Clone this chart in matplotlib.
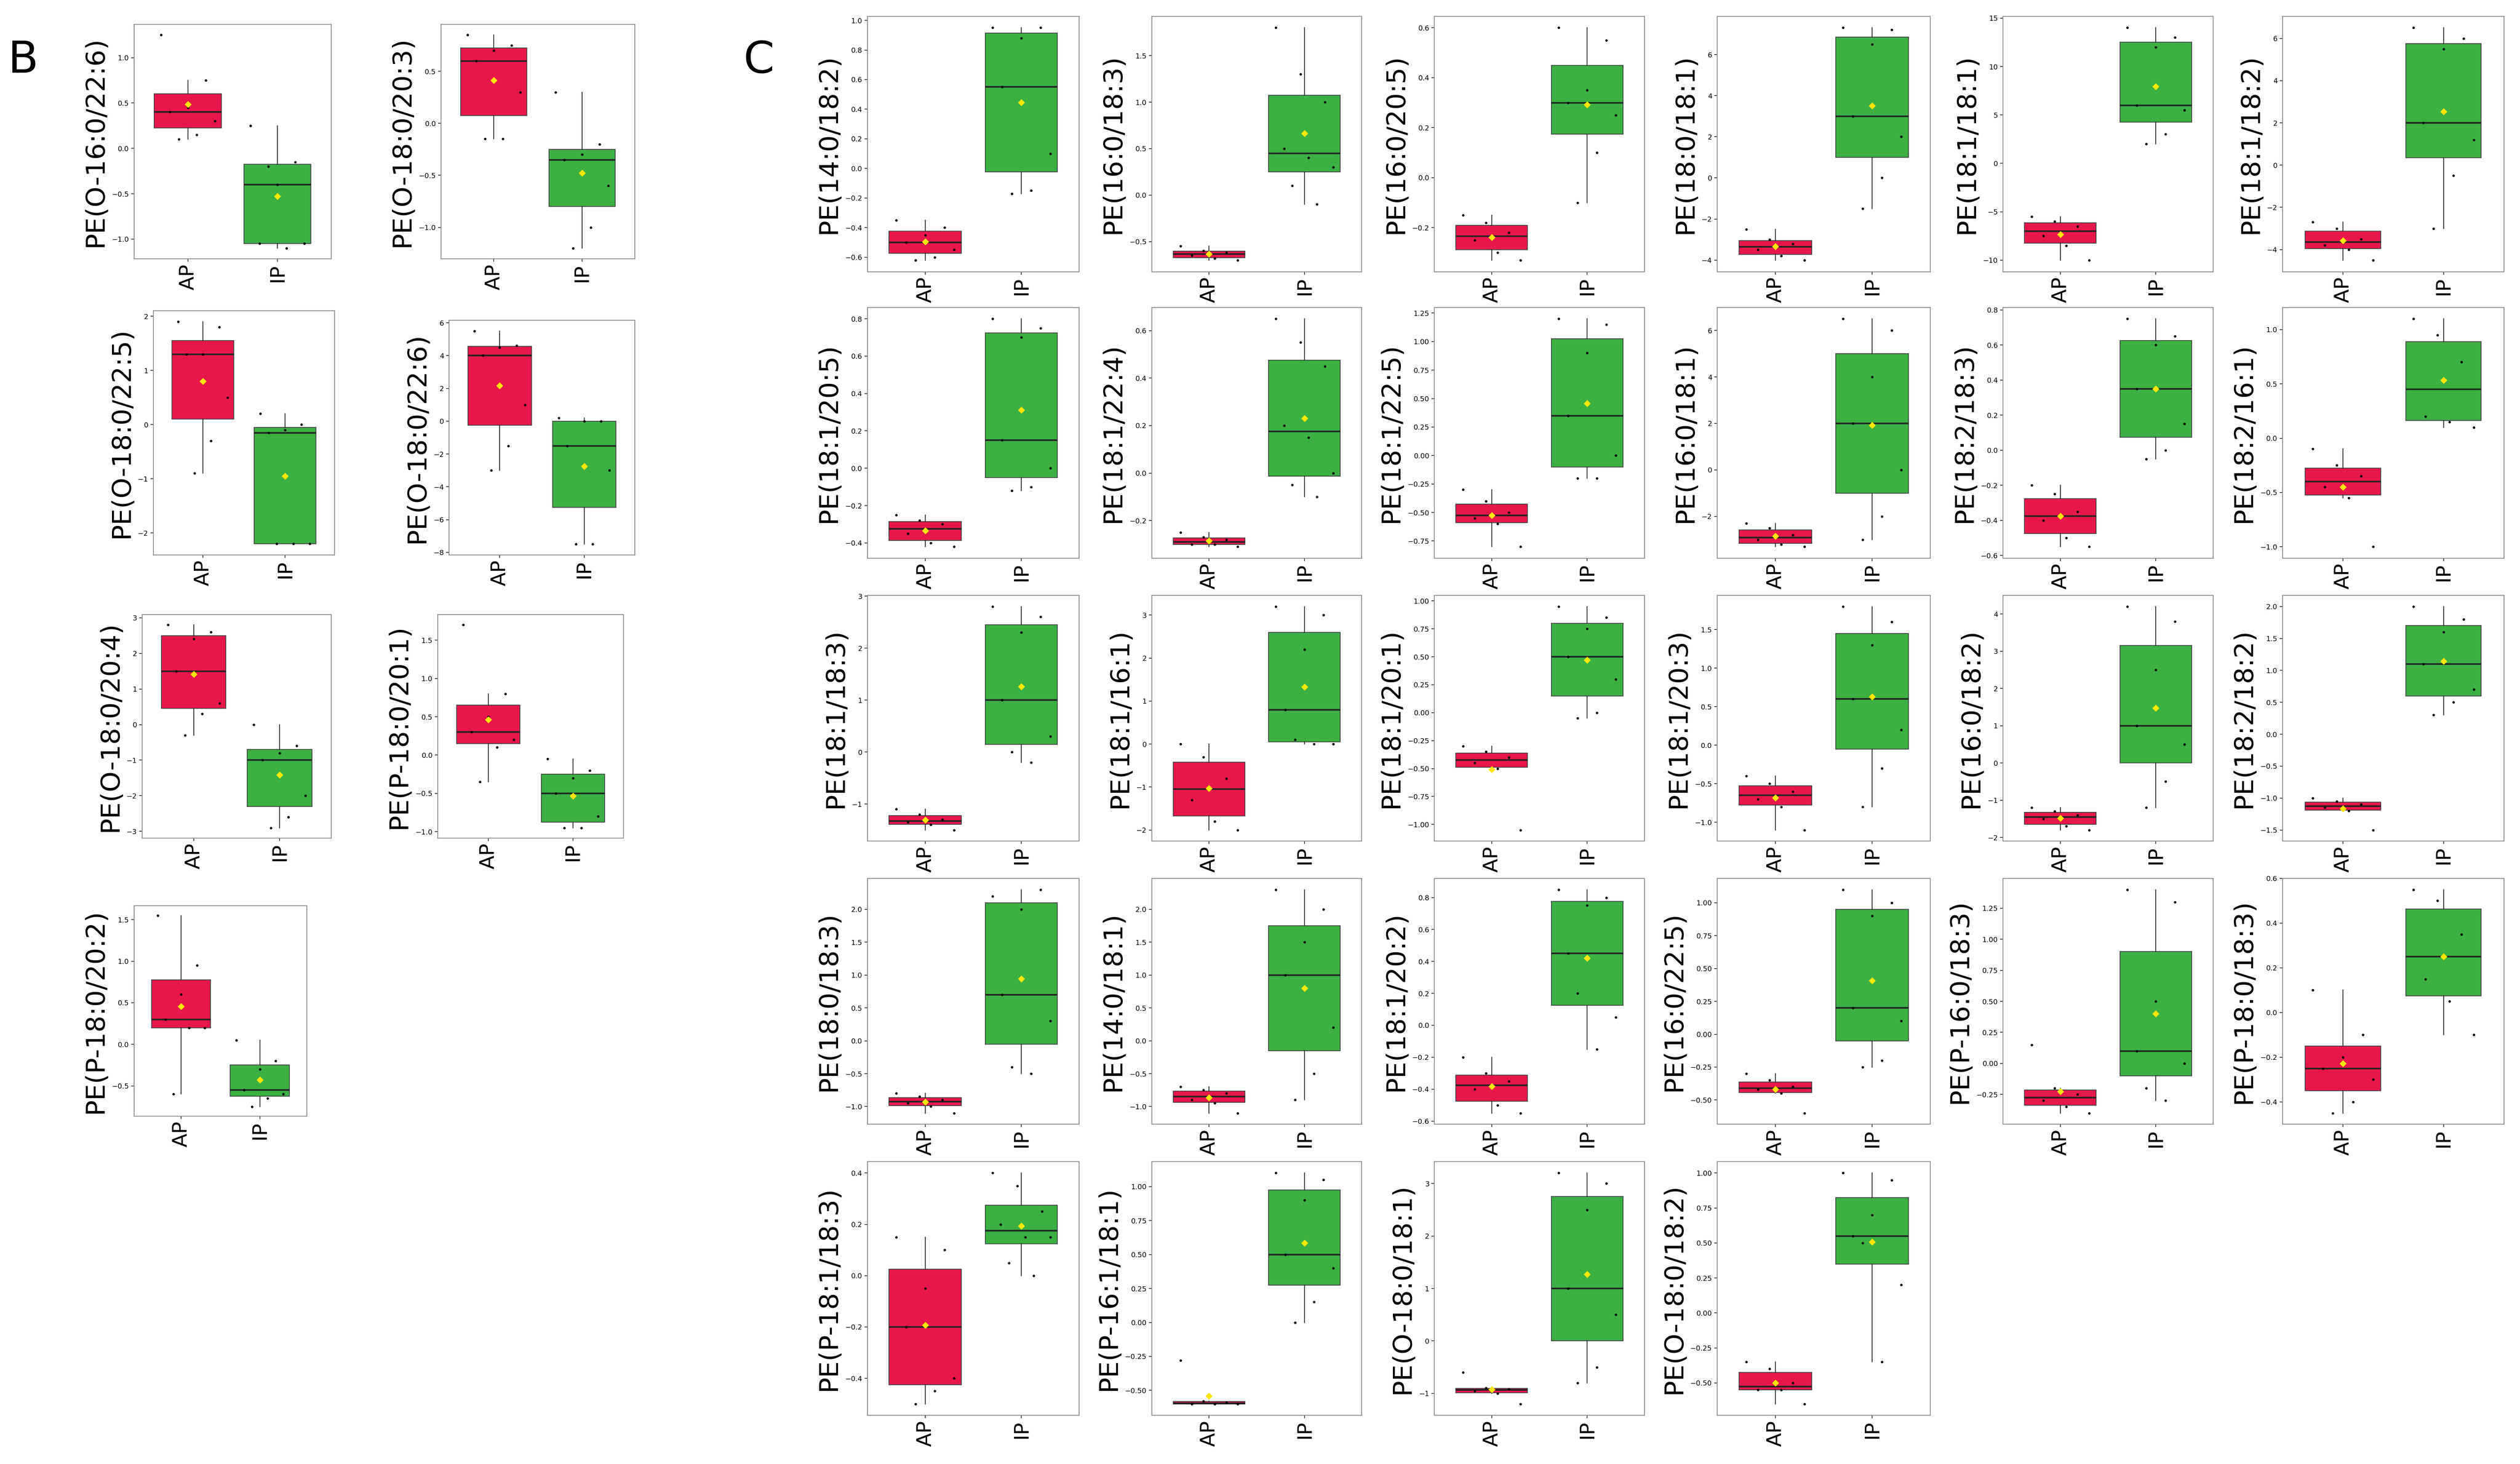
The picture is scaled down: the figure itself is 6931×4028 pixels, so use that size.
import numpy as np
import matplotlib.pyplot as plt

# panel B: name, AP points, IP points
b_names = ['PE(O-16:0/22:6)', 'PE(O-18:0/20:3)', 'PE(O-18:0/22:5)', 'PE(O-18:0/22:6)',
           'PE(O-18:0/20:4)', 'PE(P-18:0/20:1)', 'PE(P-18:0/20:2)']
b_ap = [[1.25, 0.75, 0.45, 0.4, 0.3, 0.15, 0.1],
        [0.85, 0.75, 0.7, 0.6, 0.3, -0.15, -0.15],
        [1.9, 1.8, 1.3, 1.3, 0.5, -0.3, -0.9],
        [5.5, 4.6, 4.5, 4.0, 1.0, -1.5, -3.0],
        [2.8, 2.6, 2.4, 1.5, 0.6, 0.3, -0.3],
        [1.7, 0.8, 0.5, 0.3, 0.2, 0.1, -0.35],
        [1.55, 0.95, 0.6, 0.3, 0.2, 0.2, -0.6]]
b_ip = [[0.25, -0.15, -0.4, -1.05, -1.05, -1.1, -0.2],
        [0.3, -0.2, -0.3, -0.35, -0.6, -1.0, -1.2],
        [0.2, 0.0, -0.1, -0.15, -2.2, -2.2, -2.2],
        [0.2, 0.0, 0.0, -1.5, -3.0, -7.5, -7.5],
        [0.0, -0.6, -0.8, -1.0, -2.0, -2.6, -2.9],
        [-0.05, -0.2, -0.3, -0.5, -0.8, -0.95, -0.95],
        [0.05, -0.2, -0.3, -0.55, -0.6, -0.65, -0.75]]

# panel C
c_names = ['PE(14:0/18:2)', 'PE(16:0/18:3)', 'PE(16:0/20:5)', 'PE(18:0/18:1)', 'PE(18:1/18:1)', 'PE(18:1/18:2)',
           'PE(18:1/20:5)', 'PE(18:1/22:4)', 'PE(18:1/22:5)', 'PE(16:0/18:1)', 'PE(18:2/18:3)', 'PE(18:2/16:1)',
           'PE(18:1/18:3)', 'PE(18:1/16:1)', 'PE(18:1/20:1)', 'PE(18:1/20:3)', 'PE(16:0/18:2)', 'PE(18:2/18:2)',
           'PE(18:0/18:3)', 'PE(14:0/18:1)', 'PE(18:1/20:2)', 'PE(16:0/22:5)', 'PE(P-16:0/18:3)', 'PE(P-18:0/18:3)',
           'PE(P-18:1/18:3)', 'PE(P-16:1/18:1)', 'PE(O-18:0/18:1)', 'PE(O-18:0/18:2)']
c_ap = [[-0.35, -0.4, -0.45, -0.5, -0.55, -0.6, -0.62],
        [-0.55, -0.6, -0.62, -0.65, -0.68, -0.7],
        [-0.15, -0.18, -0.22, -0.25, -0.3, -0.33],
        [-2.5, -3.0, -3.2, -3.5, -3.8, -4.0],
        [-5.5, -6.0, -6.5, -7.5, -8.5, -10.0],
        [-2.7, -3.0, -3.5, -3.8, -4.0, -4.5],
        [-0.25, -0.28, -0.3, -0.35, -0.4, -0.42],
        [-0.25, -0.27, -0.28, -0.3, -0.3, -0.31],
        [-0.3, -0.4, -0.5, -0.55, -0.6, -0.8],
        [-2.3, -2.5, -2.8, -3.0, -3.2, -3.3],
        [-0.2, -0.25, -0.35, -0.4, -0.5, -0.55],
        [-0.1, -0.25, -0.35, -0.45, -0.55, -1.0],
        [-1.1, -1.2, -1.3, -1.35, -1.4, -1.5],
        [0.0, -0.3, -0.8, -1.3, -1.8, -2.0],
        [-0.3, -0.35, -0.4, -0.45, -0.5, -1.05],
        [-0.4, -0.5, -0.6, -0.7, -0.8, -1.1],
        [-1.2, -1.3, -1.4, -1.5, -1.7, -1.8],
        [-1.0, -1.05, -1.1, -1.15, -1.2, -1.5],
        [-0.8, -0.85, -0.9, -0.95, -1.0, -1.1],
        [-0.7, -0.75, -0.8, -0.9, -0.95, -1.1],
        [-0.2, -0.3, -0.35, -0.4, -0.5, -0.55],
        [-0.3, -0.35, -0.4, -0.42, -0.45, -0.6],
        [0.15, -0.2, -0.25, -0.3, -0.35, -0.4],
        [0.1, -0.1, -0.2, -0.25, -0.3, -0.4, -0.45],
        [0.15, 0.1, -0.05, -0.2, -0.4, -0.45, -0.5],
        [-0.28, -0.58, -0.59, -0.6, -0.6, -0.6],
        [-0.6, -0.9, -0.92, -0.95, -1.0, -1.2],
        [-0.35, -0.4, -0.5, -0.55, -0.55, -0.65]]
c_ip = [[0.95, 0.95, 0.88, 0.55, 0.1, -0.15, -0.17],
        [1.8, 1.3, 1.0, 0.5, 0.4, 0.3, 0.1, -0.1],
        [0.6, 0.55, 0.35, 0.3, 0.25, 0.1, -0.1],
        [7.3, 7.2, 6.5, 3.0, 2.0, 0.0, -1.5],
        [14.0, 13.0, 12.0, 6.0, 5.5, 3.0, 2.0],
        [6.5, 6.0, 5.5, 2.0, 1.2, -0.5, -3.0],
        [0.8, 0.75, 0.7, 0.15, 0.0, -0.1, -0.12],
        [0.65, 0.55, 0.45, 0.2, 0.15, 0.0, -0.05, -0.1],
        [1.2, 1.15, 0.9, 0.35, 0.0, -0.2, -0.2],
        [6.5, 6.0, 4.0, 2.0, 0.0, -2.0, -3.0],
        [0.75, 0.65, 0.6, 0.35, 0.15, 0.0, -0.05],
        [1.1, 0.95, 0.7, 0.2, 0.15, 0.1],
        [2.8, 2.6, 2.3, 1.0, 0.3, -0.2, 0.0],
        [3.2, 3.0, 2.2, 0.8, 0.0, 0.0, 0.1],
        [0.95, 0.85, 0.75, 0.5, 0.3, 0.0, -0.05],
        [1.8, 1.6, 1.3, 0.6, 0.2, -0.3, -0.8],
        [4.2, 3.8, 2.5, 1.0, 0.5, -0.5, -1.2],
        [2.0, 1.8, 1.6, 1.1, 0.7, 0.5, 0.3],
        [2.2, 2.3, 2.0, 0.7, 0.3, -0.5, -0.4],
        [2.3, 2.0, 1.5, 1.0, 0.2, -0.5, -0.9],
        [0.85, 0.8, 0.75, 0.45, 0.05, -0.15, 0.2],
        [1.1, 1.0, 0.9, 0.2, 0.1, -0.2, -0.25],
        [1.4, 1.3, 0.5, 0.1, 0.0, -0.3, -0.2],
        [0.55, 0.5, 0.35, 0.15, 0.05, -0.1],
        [0.4, 0.35, 0.25, 0.2, 0.15, 0.15, 0.05, 0.0],
        [1.1, 1.05, 0.9, 0.5, 0.4, 0.15, 0.0],
        [3.2, 3.0, 2.5, 1.0, 0.5, -0.5, -0.8],
        [1.0, 0.95, 0.7, 0.55, 0.2, -0.35, 0.5]]

groups = ['AP', 'IP']
colors = ['#E8174A', '#3CB043']

W, H = 1560.0, 905.0
fig = plt.figure(figsize=(6931 / 400, 4028 / 400), dpi=400)


def draw(rect, name, ap, ip):
    x0, y0, x1, y1 = rect
    ax = fig.add_axes([x0 / W, 1 - y1 / H, (x1 - x0) / W, (y1 - y0) / H])
    bp = ax.boxplot([ap, ip], positions=[1, 2], widths=0.75, patch_artist=True,
                    showfliers=False, medianprops=dict(color='#222222', lw=0.8),
                    whiskerprops=dict(color='#222222', lw=0.4), capprops=dict(lw=0),
                    boxprops=dict(color='#444444', lw=0.4))
    for patch, c in zip(bp['boxes'], colors):
        patch.set_facecolor(c)
    for i, vals in enumerate([ap, ip]):
        n = len(vals)
        xs = i + 1 + np.linspace(-0.3, 0.3, n)[np.argsort(np.arange(n) * 3 % n)]
        ax.scatter(xs, vals, s=1.5, color='black', zorder=3, lw=0)
        ax.scatter([i + 1], [np.mean(vals)], s=6, marker='D', color='#FFE600', zorder=4, lw=0)
    ax.set_xlim(0.4, 2.6)
    ax.set_xticks([1, 2])
    ax.set_xticklabels(groups, rotation=90, fontsize=10)
    ax.tick_params(axis='y', labelsize=3.5, length=1.5, width=0.3, pad=1)
    ax.tick_params(axis='x', length=1.5, width=0.3, pad=1)
    ax.set_ylabel(name, fontsize=13, labelpad=2)
    for s in ax.spines.values():
        s.set_color('#888888')
        s.set_linewidth(0.4)


b_rects = [(83, 15, 205, 160), (273, 15, 393, 160), (95, 192, 207, 343), (278, 198, 393, 343),
           (88, 380, 205, 518), (271, 380, 386, 518), (83, 560, 190, 690)]
for r, n, a, i in zip(b_rects, b_names, b_ap, b_ip):
    draw(r, n, a, i)

c_cols = [(537, 668), (713, 843), (888, 1018), (1063, 1195), (1240, 1370), (1413, 1550)]
c_rows = [(10, 168), (190, 345), (368, 520), (543, 695), (718, 875)]
for k, (n, a, i) in enumerate(zip(c_names, c_ap, c_ip)):
    cx = c_cols[k % 6]
    cy = c_rows[k // 6]
    draw((cx[0], cy[0], cx[1], cy[1]), n, a, i)

fig.text(5 / W, 1 - 45 / H, 'B', fontsize=22)
fig.text(460 / W, 1 - 45 / H, 'C', fontsize=22)

fig.savefig('out.png', dpi=400)
